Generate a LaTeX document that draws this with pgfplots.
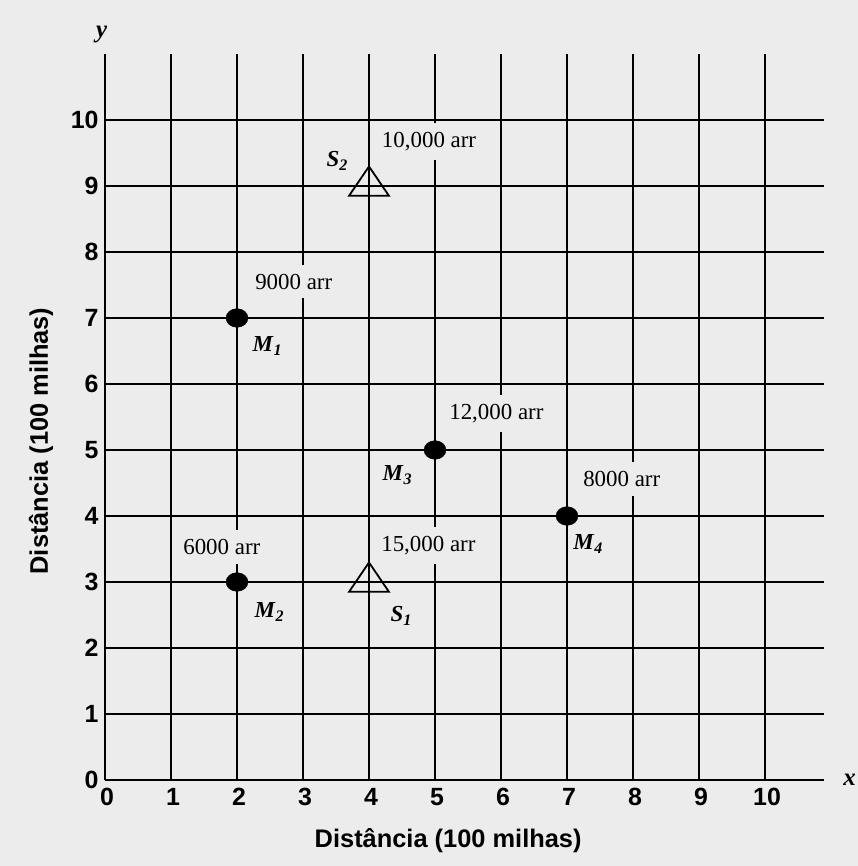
\documentclass[border=0pt]{standalone}
\usepackage{fontspec}
\setmainfont{Liberation Serif}
\newfontfamily\lsans{Liberation Sans}
\usepackage{pgfplots}
\pgfplotsset{compat=1.18}
\definecolor{paper}{rgb}{0.925,0.925,0.925}
\newcommand{\lab}[2]{\textbf{\textit{#1}}\textsubscript{\textbf{\textit{#2}}}}
\tikzset{
  lbl/.style={fill=paper, inner xsep=2bp, inner ysep=9bp, font=\fontsize{23}{25}\selectfont},
  mlb/.style={font=\fontsize{23}{25}\selectfont},
}
\begin{document}
\begin{tikzpicture}
\fill[paper] (-105bp,-86bp) rectangle (753bp,780bp);
\useasboundingbox (-105bp,-86bp) rectangle (753bp,780bp);
\begin{axis}[
  x=66bp, y=66bp,
  xmin=0, xmax=10.9, ymin=0, ymax=11,
  clip=false,
  axis lines=left,
  axis line style={line width=2.2bp, -, black},
  xtick={0,...,10}, ytick={0,...,10},
  grid=major,
  major grid style={black, line width=1.8bp},
  major tick length=0pt,
  /pgf/number format/assume math mode=true,
  tick label style={font=\lsans\bfseries\fontsize{25}{28}\selectfont},
  xticklabel style={yshift=-5bp, xshift=2bp},
  yticklabel style={xshift=-3bp},
  xlabel={Distância (100 milhas)},
  ylabel={Distância (100 milhas)},
  label style={font=\lsans\bfseries\fontsize{25.5}{28}\selectfont},
  xlabel style={at={(axis description cs:0.477,-0.084)}, anchor=center},
  ylabel style={at={(axis description cs:-0.089,0.467)}, anchor=center},
]
% markets
\addplot[only marks, mark=*, mark size=11bp, mark options={yscale=0.85, fill=black, draw=black}]
  coordinates {(2,7) (2,3) (5,5) (7,4)};
% sources
\addplot[only marks, mark=triangle, mark size=23bp, mark options={yscale=0.85, line width=1.8bp, draw=black, fill=none}]
  coordinates {(4,3) (4,9)};

\node[lbl] at (axis cs:4.91,9.67) {10,000 arr};
\node[lbl] at (axis cs:2.86,7.55) {9000 arr};
\node[lbl] at (axis cs:5.93,5.55) {12,000 arr};
\node[lbl] at (axis cs:7.83,4.56) {8000 arr};
\node[lbl] at (axis cs:1.77,3.53) {6000 arr};
\node[lbl] at (axis cs:4.90,3.55) {15,000 arr};

\node[mlb] at (axis cs:2.46,6.58) {\lab{M}{1}};
\node[mlb] at (axis cs:2.49,2.55) {\lab{M}{2}};
\node[mlb] at (axis cs:4.43,4.62) {\lab{M}{3}};
\node[mlb] at (axis cs:7.32,3.58) {\lab{M}{4}};
\node[mlb] at (axis cs:3.52,9.38) {\lab{S}{2}};
\node[mlb] at (axis cs:4.49,2.49) {\lab{S}{1}};

\node[font=\fontsize{25}{27}\selectfont] at (axis cs:11.28,0) {\textbf{\textit{x}}};
\node[font=\fontsize{25}{27}\selectfont] at (axis cs:-0.05,11.3) {\textbf{\textit{y}}};
\end{axis}
\end{tikzpicture}
\end{document}
